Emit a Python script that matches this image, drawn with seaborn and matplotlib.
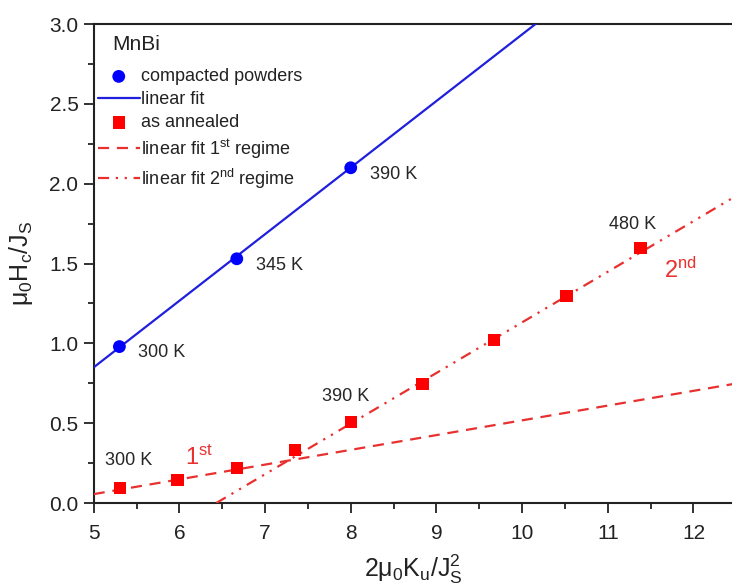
import numpy as np
import pandas as pd
import seaborn as sns
import matplotlib.pyplot as plt
from matplotlib.ticker import MultipleLocator

# compacted powders
powder_x = [5.30, 6.67, 8.00]
powder_y = [0.98, 1.53, 2.10]
powder_T = ['300 K', '345 K', '390 K']

# as annealed
anneal_x = [5.31, 5.98, 6.67, 7.35, 8.00, 8.84, 9.67, 10.52, 11.38]
anneal_y = [0.094, 0.144, 0.219, 0.332, 0.507, 0.745, 1.02, 1.296, 1.597]
anneal_T = {0: '300 K', 4: '390 K', 8: '480 K'}

# linear fits (slope, intercept)
fit_powder = (0.417, 0.85 - 0.417 * 5)
fit_first = (0.0924, 0.056 - 0.0924 * 5)
fit_second = (0.317, -0.317 * 6.43)

sns.set_theme(style='ticks')
plt.rcParams['font.family'] = ['Liberation Sans', 'DejaVu Sans']
plt.rcParams['mathtext.fontset'] = 'custom'
plt.rcParams['mathtext.rm'] = 'Liberation Sans'
plt.rcParams['mathtext.it'] = 'Liberation Sans'

dark = '#222222'
red_line = '#e8302f'

fig = plt.figure(figsize=(7.32, 5.87), dpi=100)
ax = fig.add_axes([0.128, 0.143, 0.872, 0.816])

xfit = np.linspace(5, 12.5, 50)
fits = pd.DataFrame({
    'x': xfit,
    'powder': fit_powder[0] * xfit + fit_powder[1],
    'first': fit_first[0] * xfit + fit_first[1],
    'second': fit_second[0] * xfit + fit_second[1],
})

sns.scatterplot(x=powder_x, y=powder_y, ax=ax, color='#0000ff', s=85,
                marker='o', edgecolor='none', label='compacted powders', zorder=4)
sns.lineplot(data=fits, x='x', y='powder', ax=ax, color='#1f1fdd', lw=1.6,
             label='linear fit', zorder=3)
sns.scatterplot(x=anneal_x, y=anneal_y, ax=ax, color='#ff0000', s=80,
                marker='s', edgecolor='none', label='as annealed', zorder=4)
sns.lineplot(data=fits, x='x', y='first', ax=ax, color=red_line, lw=1.6,
             label='linear fit 1$^{\\rm st}$ regime', zorder=3)
ax.lines[-1].set_dashes([5, 3.5])
sns.lineplot(data=fits, x='x', y='second', ax=ax, color=red_line, lw=1.6,
             label='linear fit 2$^{\\rm nd}$ regime', zorder=3)
ax.lines[-1].set_dashes([5, 3, 1, 3, 1, 3])

# temperature labels
for x, y, t in zip(powder_x, powder_y, powder_T):
    ax.text(x + 0.22, y - 0.04, t, fontsize=13, va='center', ha='left')
label_x = {0: 5.13, 4: 7.66, 8: 11.01}
label_dy = {0: 0.17, 4: 0.16, 8: 0.15}
for i, t in anneal_T.items():
    ax.text(label_x[i], anneal_y[i] + label_dy[i], t, fontsize=13, va='center', ha='left')
ax.text(6.06, 0.21, '1$^{\\rm st}$', color=red_line, fontsize=17, va='bottom')
ax.text(11.66, 1.38, '2$^{\\rm nd}$', color=red_line, fontsize=17, va='bottom')

ax.set_xlim(5, 12.45)
ax.set_ylim(0, 3.0)
ax.xaxis.set_major_locator(MultipleLocator(1))
ax.xaxis.set_minor_locator(MultipleLocator(0.5))
ax.yaxis.set_major_locator(MultipleLocator(0.5))
ax.yaxis.set_minor_locator(MultipleLocator(0.25))
ax.yaxis.set_major_formatter(plt.FormatStrFormatter('%.1f'))
ax.tick_params(which='major', direction='out', length=7, width=1.3, labelsize=15,
               color=dark, labelcolor=dark)
ax.tick_params(which='minor', direction='out', length=4.5, width=1.3, color=dark)
ax.tick_params(axis='x', which='major', pad=8)
ax.tick_params(axis='y', which='major', pad=4)
for side in ['left', 'bottom', 'top']:
    ax.spines[side].set_linewidth(1.5)
    ax.spines[side].set_color(dark)
ax.spines['right'].set_visible(False)

ax.set_xlabel('2$\\mu_0$K$_u$/J$_S^2$', fontsize=18, labelpad=7, color=dark)
ax.set_ylabel('$\\mu_0$H$_c$/J$_S$', fontsize=18, labelpad=10, color=dark)

ax.text(0.029, 0.957, 'MnBi', transform=ax.transAxes, fontsize=15,
        va='center', ha='left', color=dark)
leg = ax.legend(loc='upper left', bbox_to_anchor=(0.006, 0.908), frameon=False,
                fontsize=13, handlelength=2.35, handletextpad=0.05,
                labelspacing=0.33, borderaxespad=0.0, borderpad=0.0)
for txt in leg.get_texts():
    txt.set_color(dark)

fig.savefig('out.png', dpi=100)
